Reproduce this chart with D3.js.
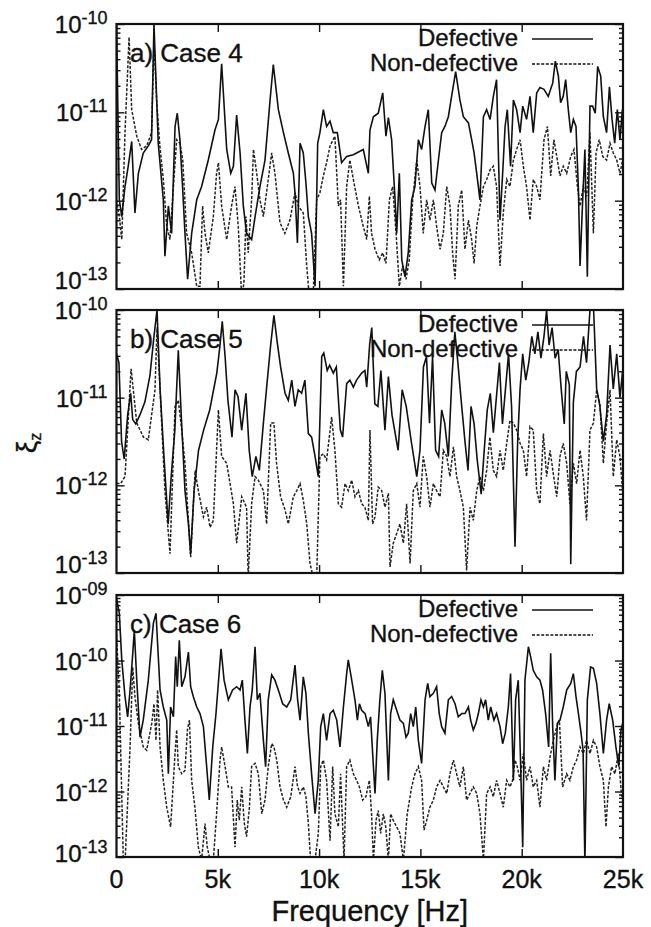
<!DOCTYPE html>
<html>
<head>
<meta charset="utf-8">
<script src="https://cdn.jsdelivr.net/npm/d3@7"></script>
<style>
  body { margin: 0; background: #fff; }
  svg text { font-family: 'Liberation Sans', Arial, Helvetica, sans-serif; fill: #111; stroke: #111; stroke-width: 0.35; }
</style>
</head>
<body>
<div id="chart"></div>
<script>
/*
    Displacement spectra xi_z for cases 4-6, defective vs non-defective.
    Values are [frequency in kHz, log10(xi_z)].
*/

var xTicks = [0, 5, 10, 15, 20, 25];
var caseLabels = ['a) Case 4', 'b) Case 5', 'c) Case 6'];
var seriesNames = ['Defective', 'Non-defective'];
var yDomains = [[-13, -10], [-13, -10], [-13, -9]];

var case4Def = [[0.0,-10.0],[0.14,-11.99],[0.26,-12.18],[0.42,-11.84],[0.58,-11.61],[0.75,-11.33],[0.91,-12.14],[1.08,-11.69],[1.32,-11.46],[1.57,-11.38],[1.73,-11.31],[1.85,-10.0],[2.06,-11.35],[2.31,-11.99],[2.39,-12.63],[2.56,-12.06],[2.72,-12.37],[2.89,-11.16],[3.0,-11.01],[3.13,-11.31],[3.26,-11.84],[3.38,-12.37],[3.51,-12.89],[3.71,-12.37],[3.96,-11.99],[4.2,-11.84],[4.53,-11.54],[4.86,-11.2],[5.03,-11.08],[5.19,-10.45],[5.44,-11.42],[5.64,-11.69],[5.77,-11.61],[5.93,-11.03],[6.1,-11.46],[6.26,-12.06],[6.42,-12.37],[6.67,-12.44],[6.84,-12.18],[7.08,-11.84],[7.33,-11.54],[7.58,-10.86],[7.74,-10.46],[7.99,-10.97],[8.24,-11.23],[8.48,-11.46],[8.73,-11.69],[8.81,-11.91],[8.93,-12.48],[9.06,-11.35],[9.22,-11.46],[9.35,-11.8],[9.47,-12.18],[9.63,-12.37],[9.8,-12.97],[9.93,-11.35],[10.04,-11.23],[10.21,-10.97],[10.37,-11.16],[10.54,-11.1],[10.7,-11.23],[10.9,-11.23],[11.11,-11.57],[11.36,-11.5],[11.69,-11.48],[12.18,-11.42],[12.43,-11.69],[12.51,-11.2],[12.68,-11.05],[12.92,-11.01],[13.14,-10.78],[13.3,-11.27],[13.42,-11.06],[13.58,-11.31],[13.75,-11.99],[13.83,-12.37],[13.96,-11.69],[14.08,-12.67],[14.24,-12.86],[14.4,-12.59],[14.57,-11.99],[14.73,-11.84],[14.9,-11.31],[15.06,-11.42],[15.23,-11.16],[15.39,-10.97],[15.56,-11.8],[15.72,-11.88],[15.89,-11.54],[16.05,-11.23],[16.21,-11.16],[16.38,-11.05],[16.54,-10.82],[16.74,-10.54],[16.95,-10.86],[17.12,-11.05],[17.37,-11.12],[17.53,-11.31],[17.65,-11.46],[17.78,-11.69],[17.94,-11.99],[18.11,-11.05],[18.27,-10.97],[18.44,-11.08],[18.6,-10.82],[18.76,-10.63],[18.93,-12.22],[19.06,-11.69],[19.18,-11.16],[19.29,-10.97],[19.45,-11.61],[19.59,-10.86],[19.75,-10.97],[19.92,-11.23],[20.05,-10.93],[20.24,-11.08],[20.41,-10.82],[20.57,-11.23],[20.74,-10.78],[20.9,-10.72],[21.1,-10.74],[21.31,-10.82],[21.53,-10.67],[21.66,-10.42],[21.81,-10.59],[21.92,-10.89],[22.05,-10.82],[22.17,-10.63],[22.3,-10.97],[22.42,-11.23],[22.55,-11.08],[22.68,-11.16],[22.8,-11.88],[22.88,-12.74],[23.01,-11.99],[23.12,-11.42],[23.24,-12.86],[23.37,-10.93],[23.5,-10.93],[23.63,-11.01],[23.75,-10.48],[23.9,-10.59],[24.03,-11.05],[24.19,-11.23],[24.33,-10.71],[24.46,-11.08],[24.59,-11.35],[24.72,-10.97],[24.85,-11.31],[24.97,-10.97]];

var case4Non = [[0.0,-11.99],[0.14,-12.18],[0.26,-12.44],[0.42,-11.23],[0.62,-10.15],[0.75,-10.97],[1.0,-11.27],[1.24,-11.42],[1.49,-11.38],[1.73,-11.23],[1.85,-10.18],[1.98,-10.86],[2.14,-11.38],[2.31,-11.76],[2.48,-12.29],[2.64,-12.44],[2.81,-11.84],[2.97,-11.31],[3.13,-11.35],[3.27,-11.54],[3.46,-12.37],[3.71,-12.59],[3.96,-12.97],[4.12,-12.97],[4.25,-12.06],[4.37,-12.37],[4.53,-12.59],[4.78,-12.18],[4.94,-11.69],[5.03,-11.57],[5.19,-12.06],[5.44,-12.44],[5.68,-12.06],[5.85,-11.84],[6.01,-12.29],[6.18,-13.1],[6.29,-12.93],[6.39,-12.18],[6.5,-12.59],[6.67,-11.99],[6.76,-11.42],[6.92,-11.69],[7.08,-11.99],[7.25,-12.18],[7.49,-11.76],[7.66,-11.46],[7.82,-11.69],[8.07,-12.25],[8.31,-12.37],[8.56,-12.22],[8.81,-11.91],[8.97,-12.06],[9.22,-12.14],[9.39,-12.74],[9.52,-13.1],[9.71,-13.05],[9.88,-11.99],[10.04,-11.91],[10.21,-11.72],[10.37,-11.57],[10.54,-11.38],[10.78,-11.27],[10.95,-12.06],[11.06,-11.99],[11.2,-12.97],[11.36,-11.84],[11.52,-11.54],[11.69,-11.76],[11.94,-12.06],[12.18,-12.29],[12.35,-12.44],[12.48,-11.95],[12.59,-12.37],[12.76,-12.55],[12.97,-12.67],[13.14,-12.59],[13.3,-12.71],[13.47,-11.99],[13.63,-11.84],[13.8,-12.37],[13.96,-12.97],[14.12,-12.74],[14.29,-12.89],[14.45,-12.67],[14.62,-11.99],[14.82,-11.54],[14.98,-11.84],[15.14,-12.37],[15.31,-11.99],[15.47,-12.22],[15.64,-11.99],[15.8,-12.29],[15.97,-12.55],[16.13,-12.37],[16.3,-11.84],[16.46,-12.06],[16.59,-12.59],[16.71,-12.89],[16.87,-12.06],[17.04,-11.88],[17.2,-12.55],[17.37,-12.22],[17.53,-12.44],[17.65,-12.71],[17.78,-12.29],[17.94,-12.06],[18.11,-11.84],[18.27,-11.76],[18.44,-11.65],[18.6,-11.61],[18.76,-11.84],[18.93,-12.74],[19.09,-12.14],[19.26,-11.76],[19.42,-11.84],[19.59,-11.54],[19.75,-11.42],[19.92,-11.31],[20.08,-11.61],[20.24,-11.84],[20.41,-12.22],[20.57,-11.76],[20.74,-11.84],[20.9,-11.99],[21.1,-11.31],[21.27,-11.16],[21.43,-11.72],[21.59,-11.31],[21.76,-11.54],[21.89,-11.72],[22.05,-11.61],[22.22,-11.69],[22.42,-11.5],[22.58,-11.42],[22.75,-11.84],[22.88,-12.06],[23.04,-11.84],[23.21,-11.95],[23.37,-11.23],[23.54,-12.37],[23.67,-11.46],[23.83,-11.31],[24.0,-11.5],[24.19,-11.54],[24.36,-11.35],[24.52,-11.46],[24.69,-11.54],[24.85,-11.69],[24.98,-11.54]];

var case5Def = [[0.0,-10.5],[0.12,-10.6],[0.25,-11.5],[0.38,-11.7],[0.55,-11.2],[0.7,-10.95],[0.8,-11.25],[0.95,-11.3],[1.15,-11.2],[1.4,-11.05],[1.65,-10.75],[1.85,-10.3],[2.0,-10.0],[2.15,-10.9],[2.35,-11.7],[2.55,-12.44],[2.7,-11.9],[2.88,-11.37],[3.05,-10.46],[3.2,-11.22],[3.38,-12.06],[3.55,-12.44],[3.66,-12.78],[3.83,-12.06],[4.05,-11.6],[4.3,-11.37],[4.6,-11.14],[4.95,-10.72],[5.1,-10.42],[5.22,-10.13],[5.36,-10.53],[5.5,-11.03],[5.7,-11.45],[5.85,-10.91],[6.0,-10.99],[6.18,-11.37],[6.39,-10.95],[6.55,-11.6],[6.7,-11.9],[6.88,-11.67],[7.05,-11.83],[7.25,-11.29],[7.4,-10.91],[7.6,-10.42],[7.77,-10.06],[7.94,-10.38],[8.1,-10.65],[8.32,-10.95],[8.48,-11.03],[8.65,-10.8],[8.81,-11.1],[8.97,-10.91],[9.14,-10.95],[9.3,-10.8],[9.47,-11.41],[9.63,-11.45],[9.8,-11.67],[9.96,-11.9],[10.13,-10.53],[10.23,-10.49],[10.4,-10.69],[10.52,-10.63],[10.7,-10.72],[10.85,-10.65],[11.05,-11.37],[11.16,-11.45],[11.36,-10.84],[11.52,-10.8],[11.69,-10.88],[11.85,-10.8],[12.1,-10.72],[12.26,-10.69],[12.35,-10.88],[12.5,-10.38],[12.6,-10.2],[12.75,-11.07],[12.9,-11.1],[13.05,-10.69],[13.25,-11.37],[13.42,-10.76],[13.6,-11.2],[13.9,-11.6],[14.1,-10.91],[14.3,-11.1],[14.55,-11.5],[14.82,-11.9],[14.98,-11.6],[15.15,-10.65],[15.3,-10.53],[15.45,-11.29],[15.6,-10.53],[15.75,-11.6],[15.9,-11.67],[16.05,-11.14],[16.2,-11.29],[16.38,-11.67],[16.55,-10.8],[16.7,-10.25],[16.85,-10.6],[17.0,-11.0],[17.2,-11.5],[17.35,-11.83],[17.5,-11.1],[17.65,-11.3],[17.8,-11.7],[18.0,-12.1],[18.15,-11.6],[18.3,-11.14],[18.45,-10.95],[18.6,-11.4],[18.75,-11.0],[18.9,-10.6],[19.05,-11.3],[19.2,-10.9],[19.35,-10.5],[19.5,-11.1],[19.67,-12.7],[19.8,-11.5],[19.92,-10.9],[20.05,-10.5],[20.2,-10.8],[20.35,-10.6],[20.5,-10.3],[20.65,-10.5],[20.8,-10.25],[20.95,-10.55],[21.1,-10.3],[21.23,-10.0],[21.35,-10.4],[21.5,-10.2],[21.65,-10.55],[21.8,-10.45],[21.95,-10.9],[22.1,-11.3],[22.2,-10.7],[22.35,-10.85],[22.42,-12.9],[22.55,-11.05],[22.7,-10.7],[22.88,-10.65],[23.05,-10.3],[23.2,-10.6],[23.37,-10.0],[23.55,-10.0],[23.7,-10.9],[23.86,-11.1],[24.03,-11.5],[24.19,-11.2],[24.36,-10.4],[24.52,-10.9],[24.69,-10.5],[24.85,-11.0],[24.98,-10.7]];

var case5Non = [[0.0,-11.98],[0.2,-11.98],[0.42,-11.9],[0.72,-10.67],[1.0,-11.29],[1.33,-11.45],[1.57,-11.48],[1.9,-10.91],[2.0,-10.2],[2.15,-10.9],[2.39,-12.06],[2.64,-12.78],[2.89,-11.1],[3.05,-11.03],[3.22,-11.37],[3.38,-11.75],[3.66,-12.82],[3.88,-11.83],[4.04,-12.06],[4.29,-12.36],[4.45,-12.25],[4.62,-12.48],[4.78,-12.4],[5.03,-11.14],[5.19,-11.67],[5.44,-11.75],[5.77,-12.21],[5.93,-12.66],[6.18,-12.13],[6.42,-12.25],[6.5,-13.05],[6.67,-12.21],[6.84,-11.9],[7.0,-11.94],[7.25,-12.06],[7.41,-12.44],[7.61,-11.29],[7.77,-11.29],[7.9,-11.75],[8.1,-12.13],[8.32,-12.28],[8.48,-12.44],[8.73,-12.13],[8.9,-12.06],[9.06,-11.98],[9.22,-12.17],[9.39,-12.44],[9.55,-12.89],[9.71,-13.05],[9.88,-13.05],[10.04,-11.67],[10.21,-11.64],[10.37,-11.71],[10.62,-11.22],[10.78,-11.6],[10.95,-12.21],[11.11,-12.25],[11.28,-11.98],[11.44,-12.06],[11.61,-11.94],[11.77,-12.13],[11.94,-12.06],[12.1,-12.21],[12.26,-12.25],[12.43,-12.4],[12.51,-11.37],[12.64,-12.44],[12.76,-12.36],[12.92,-12.02],[13.09,-12.06],[13.25,-12.25],[13.42,-12.09],[13.5,-12.93],[13.66,-12.66],[13.83,-12.55],[13.99,-12.44],[14.16,-12.66],[14.32,-12.21],[14.49,-12.89],[14.65,-12.06],[14.82,-11.98],[14.98,-12.25],[15.14,-11.67],[15.31,-11.9],[15.47,-12.25],[15.64,-11.98],[15.8,-12.06],[15.97,-12.13],[16.13,-11.6],[16.3,-11.67],[16.46,-11.9],[16.63,-11.56],[16.79,-11.9],[16.95,-12.06],[17.12,-12.25],[17.28,-12.97],[17.45,-12.25],[17.61,-12.4],[17.78,-12.06],[17.94,-11.9],[18.11,-12.06],[18.27,-11.83],[18.43,-11.45],[18.6,-11.83],[18.76,-11.9],[18.93,-11.6],[19.09,-11.83],[19.26,-11.52],[19.42,-11.26],[19.59,-11.29],[19.75,-11.37],[19.92,-11.52],[20.08,-11.6],[20.24,-11.9],[20.41,-11.33],[20.57,-11.37],[20.74,-12.06],[20.9,-12.21],[21.07,-11.41],[21.23,-11.9],[21.4,-11.6],[21.56,-11.87],[21.73,-12.13],[21.89,-11.67],[22.05,-11.52],[22.22,-11.75],[22.38,-12.21],[22.55,-11.75],[22.71,-11.98],[22.88,-11.6],[23.04,-11.9],[23.2,-12.4],[23.37,-11.37],[23.54,-11.29],[23.7,-10.91],[23.86,-11.07],[24.03,-11.75],[24.19,-11.29],[24.36,-10.91],[24.52,-11.9],[24.69,-11.48],[24.85,-11.67],[24.98,-12.06]];

var case6Def = [[0.0,-9.05],[0.14,-9.28],[0.26,-9.99],[0.42,-10.55],[0.55,-10.86],[0.67,-10.45],[0.78,-9.99],[0.88,-9.54],[1.0,-10.3],[1.16,-11.17],[1.32,-10.91],[1.57,-10.3],[1.82,-9.43],[1.95,-9.28],[2.15,-10.45],[2.31,-10.71],[2.48,-10.91],[2.56,-11.73],[2.67,-10.71],[2.81,-10.86],[2.92,-9.94],[3.0,-10.4],[3.1,-9.69],[3.22,-10.4],[3.38,-10.25],[3.55,-9.87],[3.66,-10.4],[3.79,-10.55],[3.96,-10.71],[4.12,-10.81],[4.29,-11.01],[4.45,-11.62],[4.58,-12.13],[4.75,-11.32],[4.91,-10.81],[5.16,-9.82],[5.31,-10.3],[5.52,-10.6],[5.73,-10.45],[5.93,-10.4],[6.1,-10.45],[6.21,-10.3],[6.34,-10.91],[6.46,-11.42],[6.59,-10.71],[6.7,-10.45],[6.84,-9.79],[6.95,-10.6],[7.08,-10.5],[7.25,-11.22],[7.36,-11.62],[7.49,-10.6],[7.66,-10.22],[7.82,-10.3],[8.04,-10.5],[8.2,-10.66],[8.4,-10.71],[8.6,-10.6],[8.81,-10.07],[8.94,-10.6],[9.06,-10.91],[9.22,-10.25],[9.35,-10.5],[9.47,-11.11],[9.63,-11.73],[9.8,-12.34],[9.96,-11.83],[10.08,-11.01],[10.21,-10.81],[10.37,-11.22],[10.54,-10.81],[10.7,-10.76],[10.87,-10.91],[11.03,-11.32],[11.2,-10.71],[11.36,-10.2],[11.44,-9.99],[11.61,-10.3],[11.77,-10.6],[11.89,-10.91],[11.99,-10.66],[12.1,-10.76],[12.27,-10.81],[12.43,-11.01],[12.54,-10.86],[12.68,-11.62],[12.76,-12.03],[12.87,-11.22],[13.0,-10.6],[13.12,-10.15],[13.25,-10.5],[13.42,-11.83],[13.53,-10.81],[13.66,-10.6],[13.83,-10.76],[13.99,-10.91],[14.16,-10.96],[14.29,-11.17],[14.4,-11.11],[14.52,-10.81],[14.65,-11.01],[14.77,-10.71],[14.9,-11.22],[15.06,-11.57],[15.23,-10.6],[15.36,-10.35],[15.47,-10.55],[15.64,-10.5],[15.8,-10.4],[15.93,-10.81],[16.05,-11.01],[16.21,-11.11],[16.38,-10.6],[16.54,-10.55],[16.71,-10.66],[16.87,-10.86],[17.04,-10.81],[17.2,-10.81],[17.37,-10.71],[17.48,-10.91],[17.61,-11.06],[17.74,-10.96],[17.86,-10.81],[17.99,-10.6],[18.11,-10.71],[18.22,-10.6],[18.35,-10.91],[18.47,-10.71],[18.63,-10.91],[18.76,-10.81],[18.93,-11.01],[19.06,-11.27],[19.19,-11.11],[19.34,-10.71],[19.45,-10.2],[19.59,-11.83],[19.7,-10.6],[19.83,-10.3],[19.95,-11.62],[20.05,-12.85],[20.16,-10.3],[20.33,-9.79],[20.44,-9.94],[20.57,-10.15],[20.74,-10.25],[20.9,-10.3],[21.03,-10.45],[21.18,-10.81],[21.33,-11.32],[21.43,-9.89],[21.53,-11.01],[21.64,-11.83],[21.76,-10.96],[21.89,-10.91],[22.05,-10.71],[22.22,-10.45],[22.42,-10.35],[22.55,-10.2],[22.68,-10.55],[22.8,-10.81],[22.91,-11.06],[23.03,-11.37],[23.12,-13.1],[23.24,-10.6],[23.4,-10.1],[23.54,-10.12],[23.7,-10.35],[23.86,-10.81],[24.03,-11.42],[24.19,-10.91],[24.32,-10.66],[24.49,-10.91],[24.65,-11.32],[24.79,-11.62],[24.9,-11.06],[24.98,-10.96]];

var case6Non = [[0.0,-9.6],[0.14,-10.5],[0.34,-13.1],[0.42,-13.1],[0.67,-11.32],[0.8,-10.1],[0.91,-10.55],[1.08,-10.96],[1.32,-11.32],[1.49,-11.37],[1.74,-10.96],[1.85,-10.66],[1.95,-11.22],[2.03,-10.45],[2.15,-11.32],[2.31,-11.83],[2.48,-12.24],[2.67,-12.54],[2.89,-11.42],[2.97,-11.06],[3.05,-11.62],[3.22,-11.73],[3.38,-11.68],[3.5,-11.06],[3.6,-10.91],[3.71,-11.83],[3.87,-12.24],[4.04,-12.85],[4.2,-13.05],[4.37,-12.49],[4.48,-12.85],[4.62,-13.05],[4.78,-13.05],[4.94,-12.34],[5.11,-11.52],[5.19,-11.32],[5.36,-11.62],[5.52,-11.93],[5.68,-11.93],[5.85,-12.85],[5.96,-12.13],[6.06,-12.44],[6.18,-11.93],[6.31,-12.49],[6.42,-12.69],[6.56,-12.24],[6.67,-11.62],[6.84,-11.57],[7.0,-11.73],[7.17,-12.34],[7.33,-12.13],[7.49,-11.62],[7.66,-11.27],[7.77,-11.32],[7.91,-11.52],[8.07,-11.93],[8.24,-12.13],[8.4,-12.24],[8.6,-12.08],[8.81,-11.62],[8.94,-11.93],[9.06,-12.03],[9.22,-11.93],[9.35,-12.08],[9.47,-12.49],[9.58,-13.05],[9.8,-13.05],[9.96,-12.64],[10.08,-11.62],[10.21,-11.52],[10.37,-11.83],[10.54,-12.75],[10.67,-11.62],[10.78,-12.34],[10.95,-12.54],[11.06,-11.73],[11.23,-13.05],[11.36,-11.62],[11.52,-11.52],[11.69,-11.73],[11.85,-11.83],[11.99,-11.93],[12.15,-12.13],[12.31,-12.08],[12.48,-11.83],[12.59,-12.34],[12.68,-13.05],[12.81,-12.44],[12.92,-12.29],[13.04,-12.64],[13.17,-12.34],[13.29,-12.54],[13.42,-13.05],[13.53,-12.34],[13.66,-12.44],[13.83,-12.54],[13.99,-12.64],[14.16,-13.05],[14.35,-12.34],[14.57,-11.93],[14.73,-11.73],[14.9,-11.62],[15.06,-11.83],[15.18,-12.59],[15.31,-12.44],[15.47,-12.24],[15.64,-12.13],[15.8,-11.93],[15.97,-11.83],[16.13,-11.93],[16.3,-12.03],[16.46,-11.73],[16.63,-11.52],[16.79,-11.73],[16.95,-11.93],[17.12,-11.62],[17.28,-12.13],[17.45,-12.03],[17.61,-11.93],[17.78,-12.03],[17.94,-12.34],[18.11,-13.05],[18.27,-12.03],[18.44,-11.93],[18.6,-12.08],[18.76,-11.83],[18.93,-12.03],[19.09,-12.24],[19.26,-11.83],[19.42,-11.93],[19.55,-11.83],[19.67,-11.52],[19.78,-11.62],[19.92,-11.83],[20.08,-11.42],[20.24,-11.83],[20.41,-11.62],[20.57,-11.93],[20.74,-11.83],[20.9,-12.24],[21.07,-11.62],[21.23,-11.83],[21.4,-11.47],[21.56,-11.22],[21.73,-11.01],[21.86,-10.91],[22.02,-11.93],[22.22,-11.73],[22.38,-11.83],[22.55,-11.62],[22.71,-11.52],[22.88,-11.32],[23.04,-11.42],[23.2,-11.22],[23.37,-11.42],[23.54,-11.22],[23.7,-11.32],[23.86,-11.62],[24.03,-11.83],[24.16,-12.54],[24.28,-11.93],[24.44,-11.62],[24.6,-11.73],[24.77,-11.42],[24.93,-12.08]];

var panelData = [[case4Def, case4Non], [case5Def, case5Non], [case6Def, case6Non]];

var width = 651, height = 927;
var left = 116.5, right = 623;
var panels = [{top: 24, bottom: 289}, {top: 310, bottom: 573}, {top: 595, bottom: 857}];
// gnuplot shifts the lowest label up so it does not hit the next panel
var lowLabelDy = [0, 0, 5];

var svg = d3.select('#chart').append('svg')
    .attr('width', width)
    .attr('height', height);

var x = d3.scaleLinear().domain([0, 25]).range([left, right]);

function drawPanel(i) {
    var p = panels[i];
    var dom = yDomains[i];
    var y = d3.scaleLog()
        .domain([Math.pow(10, dom[0]), Math.pow(10, dom[1])])
        .range([p.bottom, p.top]);

    var g = svg.append('g').attr('class', 'panel-' + i);

    var decades = d3.range(dom[0], dom[1] + 1).map(function(e) { return Math.pow(10, e); });
    var minor = [];
    decades.slice(0, -1).forEach(function(d) {
        for (var k = 2; k < 10; k++) minor.push(d * k);
    });

    // tick marks on all four sides, pointing inwards
    g.append('g').attr('transform', 'translate(' + left + ',0)')
        .call(d3.axisLeft(y).tickValues(decades).tickSize(-8).tickFormat(''));
    g.append('g').attr('transform', 'translate(' + left + ',0)')
        .call(d3.axisLeft(y).tickValues(minor).tickSize(-4).tickFormat(''));
    g.append('g').attr('transform', 'translate(' + right + ',0)')
        .call(d3.axisRight(y).tickValues(decades).tickSize(-8).tickFormat(''));
    g.append('g').attr('transform', 'translate(' + right + ',0)')
        .call(d3.axisRight(y).tickValues(minor).tickSize(-4).tickFormat(''));
    g.append('g').attr('transform', 'translate(0,' + p.bottom + ')')
        .call(d3.axisBottom(x).tickValues(xTicks.slice(1, -1)).tickSize(-8).tickFormat(''));
    g.append('g').attr('transform', 'translate(0,' + p.top + ')')
        .call(d3.axisTop(x).tickValues(xTicks.slice(1, -1)).tickSize(-8).tickFormat(''));
    g.selectAll('.domain').remove();
    g.selectAll('.tick line').attr('stroke', '#111').attr('stroke-width', 1.4);

    // y tick labels 10^-n
    decades.forEach(function(d, j) {
        var e = dom[0] + j;
        var dy = (j === 0) ? lowLabelDy[i] : 9;
        var exp = '-' + (Math.abs(e) < 10 ? '0' : '') + Math.abs(e);
        var t = g.append('text')
            .attr('x', left - 9)
            .attr('y', y(d) + dy)
            .attr('text-anchor', 'end')
            .attr('font-size', 24)
            .text('10');
        t.append('tspan')
            .attr('dy', -9)
            .attr('font-size', 18)
            .text(exp);
    });

    // case label and key text
    g.append('text')
        .attr('x', 130).attr('y', p.top + 38)
        .attr('font-size', 26)
        .text(caseLabels[i]);

    seriesNames.forEach(function(name, k) {
        var by = p.top + 22 + k * 25;
        g.append('text')
            .attr('x', 518).attr('y', by)
            .attr('text-anchor', 'end')
            .attr('font-size', 24)
            .text(name);
        g.append('line')
            .attr('x1', 532).attr('x2', 593)
            .attr('y1', by - 7).attr('y2', by - 7)
            .attr('stroke', '#111')
            .attr('stroke-width', 1.5)
            .attr('stroke-dasharray', k === 1 ? '3,1.6' : null);
    });

    // clip so dips under 1e-13 leave the frame
    var clipId = 'clip-' + i;
    svg.append('clipPath').attr('id', clipId)
        .append('rect')
        .attr('x', left).attr('y', p.top)
        .attr('width', right - left).attr('height', p.bottom - p.top);

    var line = d3.line()
        .x(function(d) { return x(d[0]); })
        .y(function(d) { return y(Math.pow(10, d[1])); });

    var lines = g.append('g').attr('clip-path', 'url(#' + clipId + ')');
    lines.append('path')
        .datum(panelData[i][1])
        .attr('fill', 'none')
        .attr('stroke', '#222')
        .attr('stroke-width', 1.5)
        .attr('stroke-dasharray', '3,1.6')
        .attr('d', line);
    lines.append('path')
        .datum(panelData[i][0])
        .attr('fill', 'none')
        .attr('stroke', '#111')
        .attr('stroke-width', 1.6)
        .attr('d', line);

    // frame
    g.append('rect')
        .attr('x', left).attr('y', p.top)
        .attr('width', right - left).attr('height', p.bottom - p.top)
        .attr('fill', 'none')
        .attr('stroke', '#111')
        .attr('stroke-width', 2.2);

    // x labels only under the last panel
    if (i === panels.length - 1) {
        xTicks.forEach(function(v) {
            g.append('text')
                .attr('x', x(v)).attr('y', p.bottom + 31)
                .attr('text-anchor', 'middle')
                .attr('font-size', 25)
                .text(v === 0 ? '0' : v + 'k');
        });
    }
}

for (var i = 0; i < panels.length; i++) drawPanel(i);

// axis titles
svg.append('text')
    .attr('x', (left + right) / 2).attr('y', 921)
    .attr('text-anchor', 'middle')
    .attr('font-size', 29)
    .text('Frequency [Hz]');

var yt = svg.append('text')
    .attr('transform', 'translate(36,443) rotate(-90)')
    .attr('text-anchor', 'middle')
    .attr('font-size', 28)
    .text('ξ');
yt.append('tspan')
    .attr('dy', 5)
    .attr('font-size', 16)
    .text('z');
</script>
</body>
</html>
